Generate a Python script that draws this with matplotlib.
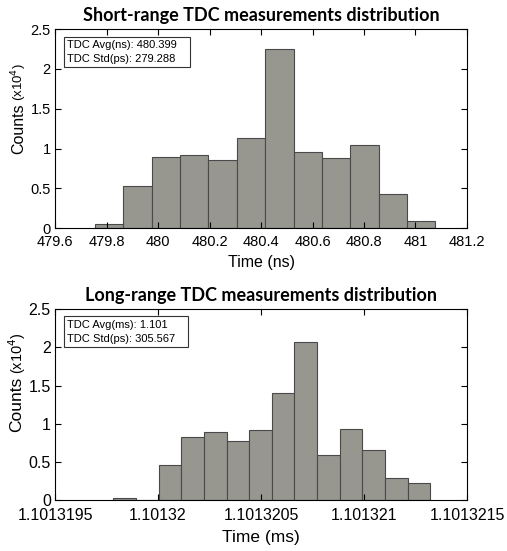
import matplotlib
matplotlib.use('Agg')
import matplotlib.pyplot as plt
import numpy as np
from matplotlib.ticker import FuncFormatter

plt.rcParams['font.family'] = ['Liberation Sans', 'DejaVu Sans']

# short-range histogram (ns), counts in units of 1e4
short_edges = [479.755, 479.865, 479.975, 480.086, 480.196, 480.306, 480.416,
               480.527, 480.637, 480.747, 480.857, 480.967, 481.077]
short_counts = [0.046, 0.53, 0.89, 0.92, 0.85, 1.13, 2.25, 0.955, 0.88, 1.04, 0.427, 0.092]
short_xticks = [479.6, 479.8, 480, 480.2, 480.4, 480.6, 480.8, 481, 481.2]
short_stats = ['TDC Avg(ns): 480.399', 'TDC Std(ps): 279.288']

# long-range histogram (ms)
long_edges = [1.1013197829, 1.1013198929, 1.1013200028, 1.1013201128, 1.1013202227,
              1.1013203327, 1.1013204426, 1.1013205526, 1.1013206625, 1.1013207725,
              1.1013208824, 1.1013209924, 1.1013211023, 1.1013212123, 1.1013213222]
long_counts = [0.022, 0.0, 0.459, 0.826, 0.892, 0.769, 0.913, 1.40, 2.07,
               0.586, 0.927, 0.651, 0.288, 0.223]
long_xticks = [1.1013195, 1.10132, 1.1013205, 1.101321, 1.1013215]
long_stats = ['TDC Avg(ms): 1.101', 'TDC Std(ps): 305.567']

yticks = [0, 0.5, 1, 1.5, 2, 2.5]

face = '#979790'
edge = '#4a4a4a'

fig = plt.figure(figsize=(5.07, 5.51), dpi=100)
ax1 = fig.add_axes([0.1085, 0.586, 0.8126, 0.361])
ax2 = fig.add_axes([0.1085, 0.0926, 0.8126, 0.346])


def draw(ax, edges, counts, xticks, stats, title, xlabel, ts, ls, xpad, xlpad):
    edges = np.array(edges)
    widths = np.diff(edges)
    ax.bar(edges[:-1], counts, width=widths, align='edge', color=face,
           edgecolor=edge, linewidth=0.8)
    ax.set_xlim(xticks[0], xticks[-1])
    ax.set_ylim(0, 2.5)
    ax.set_xticks(xticks)
    ax.set_yticks(yticks)
    ax.xaxis.set_major_formatter(FuncFormatter(lambda v, p: '{:.8g}'.format(v)))
    ax.yaxis.set_major_formatter(FuncFormatter(lambda v, p: '{:g}'.format(v)))
    ax.tick_params(direction='in', top=True, right=True, labelsize=ts,
                   length=4, width=0.8)
    ax.tick_params(axis='x', pad=xpad)
    ax.tick_params(axis='y', pad=3)
    for s in ax.spines.values():
        s.set_linewidth(0.8)
    ax.set_title(title, fontsize=13, fontweight='bold', family=['Lato', 'DejaVu Sans'], pad=6)
    ax.set_xlabel(xlabel, fontsize=ls, labelpad=xlpad)
    ax.set_ylabel('Counts', fontsize=ls, labelpad=3)
    ax.annotate('(x10$^4$)', xy=(0.5, 1), xycoords=ax.yaxis.label, xytext=(0, 2),
                textcoords='offset points', rotation=90, ha='center', va='bottom',
                fontsize=ls - 2)
    # stats box, with a bit of extra room on the right like the original
    ax.text(0.03, 0.945, stats[0] + '   \n' + stats[1] + '   ', transform=ax.transAxes,
            fontsize=8, va='top', ha='left', linespacing=1.5,
            bbox=dict(boxstyle='square,pad=0.3', facecolor='white',
                      edgecolor='#333333', linewidth=0.8))


draw(ax1, short_edges, short_counts, short_xticks, short_stats,
     'Short-range TDC measurements distribution', 'Time (ns)', 10.5, 11.5, 5, 4)
draw(ax2, long_edges, long_counts, long_xticks, long_stats,
     'Long-range TDC measurements distribution', 'Time (ms)', 11.5, 12.5, 6, 5)

fig.savefig('out.png', dpi=100)
